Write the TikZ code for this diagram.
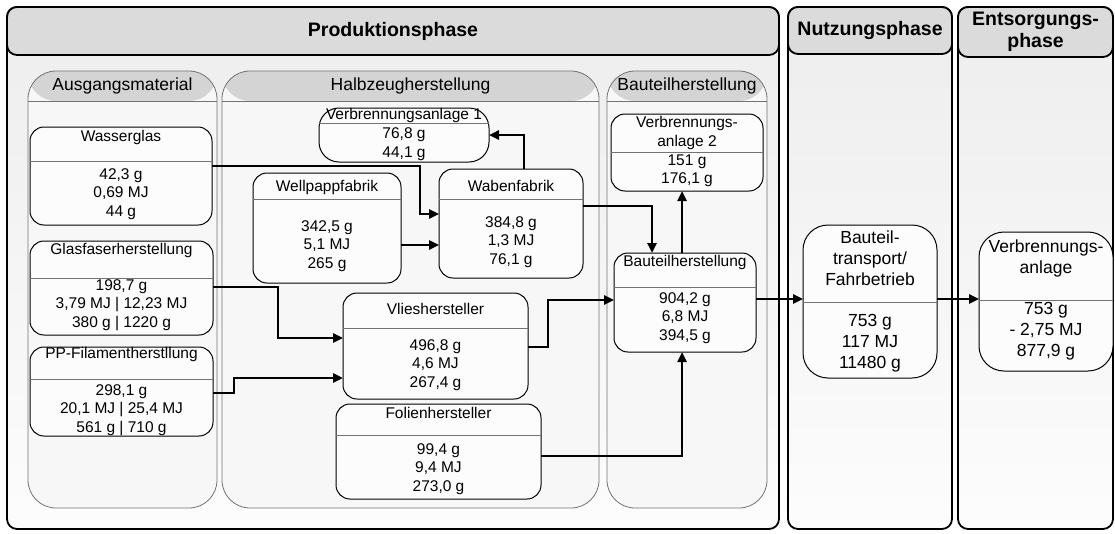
\documentclass[tikz,border=0pt]{standalone}
\usepackage{fontspec}
\setmainfont{Liberation Sans}
\usetikzlibrary{arrows.meta}

\tikzset{
  phase/.style={draw, line width=1.8pt, outer sep=0pt, rounded corners=10pt,
    top color=black!7, bottom color=black!1},
  phasehead/.style={draw, line width=1.8pt, outer sep=0pt, rounded corners=10pt,
    fill=black!14, align=center, font=\fontsize{19.5}{22}\selectfont\bfseries},
  lane/.style={draw=black!55, line width=0.8pt, outer sep=0pt, rounded corners=28pt,
    fill=black!3,
    path picture={
      \fill[black!17] (path picture bounding box.north west)
        rectangle ([yshift=-30pt]path picture bounding box.north east);
      \draw[black!55, line width=0.8pt] ([yshift=-30pt]path picture bounding box.north west)
        -- ([yshift=-30pt]path picture bounding box.north east);}},
  lanehead/.style={inner sep=0pt, font=\fontsize{17.5}{20}\selectfont},
  stationbox/.style={draw, line width=1pt, outer sep=0pt, rounded corners=14pt, fill=black!1},
  divider/.style={draw=black!55, line width=0.8pt},
  boxtext/.style={inner sep=0pt, align=center, font=\fontsize{15.5}{18.5}\selectfont},
  bigtext/.style={inner sep=0pt, align=center, font=\fontsize{17.5}{21}\selectfont},
  flow/.style={line width=2.4pt, -{Triangle[length=10pt,width=9pt]}}
}

\begin{document}
\begin{tikzpicture}[x=1pt,y=-1pt]
    \useasboundingbox (0,0) rectangle (1115,533);

    % Phases
    \node[phase, minimum width=772pt, minimum height=522pt] (prod) at (393,268) {};
    \node[phase, minimum width=164pt, minimum height=522pt] (nutz) at (870,268) {};
    \node[phase, minimum width=155pt, minimum height=522pt] (ents) at (1035.5,268) {};
    \node[phasehead, minimum width=772pt, minimum height=48pt, anchor=north] (prodH) at (prod.north) {Produktionsphase};
    \node[phasehead, minimum width=164pt, minimum height=47pt, anchor=north] (nutzH) at (nutz.north) {Nutzungsphase};
    \node[phasehead, minimum width=155pt, minimum height=50pt, anchor=north] (entsH) at (ents.north) {Entsorgungs-\\phase};

    % Lanes of the production phase
    \node[lane, minimum width=189pt, minimum height=437pt] (am) at (122.5,289.5) {};
    \node[lane, minimum width=377pt, minimum height=437pt] (hz) at (410.5,289.5) {};
    \node[lane, minimum width=160pt, minimum height=437pt] (bh) at (687,289.5) {};
    \node[lanehead] (amH) at (122.5,86) {Ausgangsmaterial};
    \node[lanehead] (hzH) at (410.5,86) {Halbzeugherstellung};
    \node[lanehead] (bhH) at (687,86) {Bauteilherstellung};

    % Ausgangsmaterial
    \node[stationbox, minimum width=182pt, minimum height=98pt] (wg) at (121,176) {};
    \draw[divider] (wg.west |- 0,161) -- (wg.east |- 0,161);
    \node[boxtext] (wgT) at (121,137) {Wasserglas};
    \node[boxtext] (wgV) at (121,194) {42,3 g\\0,69 MJ\\44 g};

    \node[stationbox, minimum width=183pt, minimum height=94pt] (gf) at (121.5,288) {};
    \draw[divider] (gf.west |- 0,278) -- (gf.east |- 0,278);
    \node[boxtext] (gfT) at (121.5,250) {Glasfaserherstellung};
    \node[boxtext] (gfV) at (121.5,305) {198,7 g\\3,79 MJ | 12,23 MJ\\380 g | 1220 g};

    \node[stationbox, minimum width=183pt, minimum height=89pt] (pp) at (121.5,391.5) {};
    \draw[divider] (pp.west |- 0,379) -- (pp.east |- 0,379);
    \node[boxtext] (ppT) at (121.5,354) {PP-Filamentherstllung};
    \node[boxtext] (ppV) at (121.5,410) {298,1 g\\20,1 MJ | 25,4 MJ\\561 g | 710 g};

    % Halbzeugherstellung
    \node[stationbox, rounded corners=20pt, minimum width=170pt, minimum height=54pt] (vb1) at (404,135) {};
    \draw[divider] (vb1.west |- 0,123) -- (vb1.east |- 0,123);
    \node[boxtext] (vb1T) at (404,115) {Verbrennungsanlage 1};
    \node[boxtext] (vb1V) at (404,144) {76,8 g\\44,1 g};

    \node[stationbox, minimum width=148pt, minimum height=110pt] (wp) at (327,228) {};
    \draw[divider] (wp.west |- 0,199) -- (wp.east |- 0,199);
    \node[boxtext] (wpT) at (327,187) {Wellpappfabrik};
    \node[boxtext] (wpV) at (327,246) {342,5 g\\5,1 MJ\\265 g};

    \node[stationbox, minimum width=144pt, minimum height=109pt] (wb) at (511,223.5) {};
    \draw[divider] (wb.west |- 0,199) -- (wb.east |- 0,199);
    \node[boxtext] (wbT) at (511,186) {Wabenfabrik};
    \node[boxtext] (wbV) at (511,242) {384,8 g\\1,3 MJ\\76,1 g};

    \node[stationbox, minimum width=185pt, minimum height=106pt] (vl) at (435.5,346) {};
    \draw[divider] (vl.west |- 0,328) -- (vl.east |- 0,328);
    \node[boxtext] (vlT) at (435.5,309) {Vlieshersteller};
    \node[boxtext] (vlV) at (435.5,365) {496,8 g\\4,6 MJ\\267,4 g};

    \node[stationbox, minimum width=205pt, minimum height=95pt] (fo) at (438.5,451.5) {};
    \draw[divider] (fo.west |- 0,435) -- (fo.east |- 0,435);
    \node[boxtext] (foT) at (438.5,413) {Folienhersteller};
    \node[boxtext] (foV) at (438.5,469) {99,4 g\\9,4 MJ\\273,0 g};

    % Bauteilherstellung
    \node[stationbox, minimum width=152pt, minimum height=77pt] (vb2) at (687,152.5) {};
    \draw[divider] (vb2.west |- 0,152) -- (vb2.east |- 0,152);
    \node[boxtext] (vb2T) at (687,133) {Verbrennungs-\\anlage 2};
    \node[boxtext] (vb2V) at (687,171) {151 g\\176,1 g};

    \node[stationbox, minimum width=142pt, minimum height=99pt] (bt) at (685,302.5) {};
    \draw[divider] (bt.west |- 0,287) -- (bt.east |- 0,287);
    \node[boxtext] (btT) at (685,262) {Bauteilherstellung};
    \node[boxtext] (btV) at (685,318) {904,2 g\\6,8 MJ\\394,5 g};

    % Nutzung und Entsorgung
    \node[stationbox, rounded corners=25pt, minimum width=134pt, minimum height=153pt] (tr) at (870,301.5) {};
    \draw[divider] (tr.west |- 0,302) -- (tr.east |- 0,302);
    \node[bigtext] (trT) at (870,258) {Bauteil-\\transport/\\Fahrbetrieb};
    \node[bigtext] (trV) at (870,343) {753 g\\117 MJ\\11480 g};

    \node[stationbox, rounded corners=25pt, minimum width=134pt, minimum height=139pt] (va) at (1046,301.5) {};
    \draw[divider] (va.west |- 0,300) -- (va.east |- 0,300);
    \node[bigtext] (vaT) at (1046,258) {Verbrennungs-\\anlage};
    \node[bigtext] (vaV) at (1046,331) {753 g\\- 2,75 MJ\\877,9 g};

    % Material flows
    \draw[flow] (wg.east |- 0,166) -| (420,214) -- (wb.west |- 0,214);
    \draw[flow] (wp.east |- 0,245) -- (wb.west |- 0,245);
    \draw[flow] (wb.north -| 524,0) |- (vb1.east |- 0,135);
    \draw[flow] (wb.east |- 0,206) -| (bt.north -| 652,0);
    \draw[flow] (bt.north -| 682,0) -- (vb2.south -| 682,0);
    \draw[flow] (gf.east |- 0,287) -| (278,338) -- (vl.west |- 0,338);
    \draw[flow] (pp.east |- 0,393) -| (234,378) -- (vl.west |- 0,378);
    \draw[flow] (vl.east |- 0,347) -| (548,300) -- (bt.west |- 0,300);
    \draw[flow] (fo.east |- 0,456) -| (bt.south -| 682,0);
    \draw[flow] (bt.east |- 0,299) -- (tr.west |- 0,299);
    \draw[flow] (tr.east |- 0,299) -- (va.west |- 0,299);
\end{tikzpicture}
\end{document}
